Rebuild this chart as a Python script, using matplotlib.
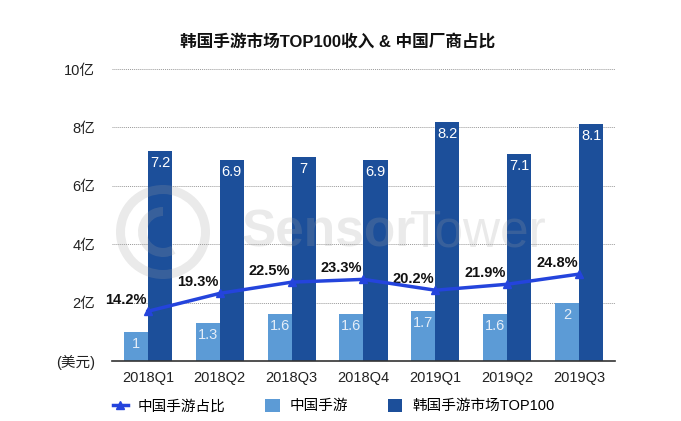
import numpy as np
import matplotlib
matplotlib.use("Agg")
import matplotlib.pyplot as plt
from matplotlib.patches import Wedge

plt.rcParams['font.family'] = ['Liberation Sans', 'Noto Sans CJK SC', 'DejaVu Sans']

quarters = ["2018Q1", "2018Q2", "2018Q3", "2018Q4", "2019Q1", "2019Q2", "2019Q3"]
china_rev = [1, 1.3, 1.6, 1.6, 1.7, 1.6, 2]
korea_top100 = [7.2, 6.9, 7, 6.9, 8.2, 7.1, 8.1]
china_share = [14.2, 19.3, 22.5, 23.3, 20.2, 21.9, 24.8]
yticks = [0, 2, 4, 6, 8, 10]
ytick_labels = ["(美元)", "2亿", "4亿", "6亿", "8亿", "10亿"]

dark = "#1c4f9a"
light = "#5c9bd6"
line_col = "#2444dc"

fig = plt.figure(figsize=(6.81, 4.21), dpi=100)
ax = fig.add_axes([112 / 681, 1 - 361 / 421, 503 / 681, 292 / 421])

x = np.arange(len(quarters))
w = 0.335
b1 = ax.bar(x - w / 2, china_rev, w, color=light, zorder=2, label="中国手游")
b2 = ax.bar(x + w / 2, korea_top100, w, color=dark, zorder=2, label="韩国手游市场TOP100")

for xi, v in zip(x, china_rev):
    ax.annotate(f"{v:g}", (xi - w / 2, v), xytext=(0, -12), textcoords="offset pixels",
                ha="center", va="center", color="#e4edf8", fontsize=10.5, zorder=4)
for xi, v in zip(x, korea_top100):
    ax.annotate(f"{v:g}", (xi + w / 2, v), xytext=(0, -12), textcoords="offset pixels",
                ha="center", va="center", color="white", fontsize=10.5, zorder=4)

ax.set_xlim(-0.5, len(quarters) - 0.5)
ax.set_ylim(0, 10)
ax.set_yticks(yticks)
ax.set_yticklabels(ytick_labels, fontsize=10.5, color="#222222")
ax.set_xticks(x)
ax.set_xticklabels(quarters, fontsize=10.5, color="#222222")
ax.tick_params(axis="both", length=0)
ax.tick_params(axis="y", pad=12)
ax.tick_params(axis="x", pad=7)
for s in ["top", "right", "left"]:
    ax.spines[s].set_visible(False)
ax.spines["bottom"].set_color("#333333")
ax.spines["bottom"].set_linewidth(1.2)
ax.spines["bottom"].set_zorder(5)
for t in yticks[1:]:
    ax.axhline(t, color="#999999", linestyle=(0, (1, 1)), linewidth=0.7, zorder=1)

# share line on hidden secondary axis (100% = 12亿)
ax2 = ax.twinx()
ax2.set_ylim(0, 100 * 10 / 12)
ax2.axis("off")
ln, = ax2.plot(x, china_share, color=line_col, linewidth=2.5, marker="^",
               markersize=6, zorder=6, label="中国手游占比")
for xi, v in zip(x, china_share):
    ax2.annotate(f"{v}%", (xi, v), xytext=(-22, 11), textcoords="offset pixels",
                 ha="center", va="center", fontsize=10.5, fontweight="bold", color="#111111")

# watermark
fig.text(242 / 681, 1 - 233 / 421, "Sensor", fontsize=37, fontweight="bold",
         color="#a0a0a0", alpha=0.22, va="center", ha="left", zorder=10)
fig.text(410 / 681, 1 - 233 / 421, "Tower", fontsize=37,
         color="#a0a0a0", alpha=0.22, va="center", ha="left", zorder=10)
ring = Wedge((163, 421 - 232), 47, 0, 360, width=9, transform=None,
             facecolor="#a0a0a0", alpha=0.22, edgecolor="none", zorder=10)
fig.patches.append(ring)
inner = Wedge((163, 421 - 232), 25, 90, 300, width=9, transform=None,
              facecolor="#a0a0a0", alpha=0.22, edgecolor="none", zorder=10)
fig.patches.append(inner)

fig.text(338 / 681, 1 - 42 / 421, "韩国手游市场TOP100收入 & 中国厂商占比",
         ha="center", va="center", fontsize=12, fontweight="bold", color="#111111")

fig.legend(handles=[ln, b1, b2], loc="center left", bbox_to_anchor=(113 / 681, 1 - 406 / 421),
           ncol=3, frameon=False, fontsize=10.5, handlelength=1.0, handleheight=1.0,
           handletextpad=0.7, columnspacing=2.7, borderpad=0, borderaxespad=0)

fig.savefig("out.png", dpi=100)
